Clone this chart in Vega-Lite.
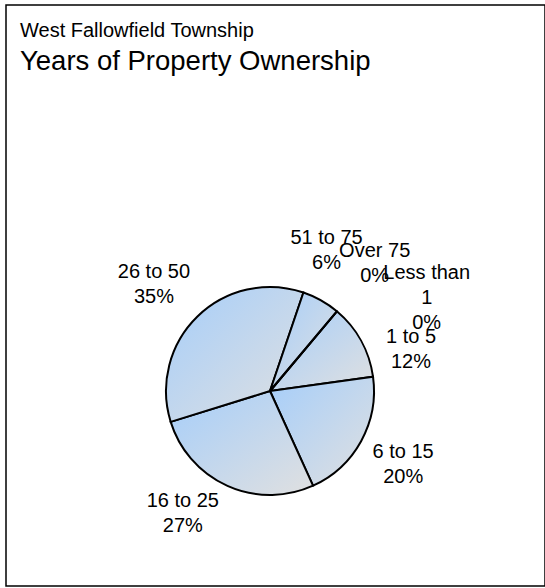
{
  "$schema": "https://vega.github.io/schema/vega-lite/v6.json",
  "width": 539,
  "height": 581,
  "padding": {"left": 6, "top": 5, "right": 0, "bottom": 2},
  "autosize": {"type": "pad"},
  "background": "white",
  "view": {"stroke": "black", "strokeWidth": 1.5, "fill": "white"},
  "config": {"font": "Liberation Sans"},
  "title": {
    "text": "West Fallowfield Township",
    "subtitle": "Years of Property Ownership",
    "anchor": "start",
    "dx": 14,
    "offset": -70,
    "font": "Liberation Sans",
    "fontSize": 20,
    "fontWeight": "normal",
    "color": "black",
    "subtitleFont": "Liberation Sans",
    "subtitleFontSize": 27.5,
    "subtitleColor": "black",
    "subtitlePadding": 7
  },
  "data": {
    "values": [
      {"cat": "Less than 1", "pct": 0},
      {"cat": "1 to 5", "pct": 11.7},
      {"cat": "6 to 15", "pct": 20.4},
      {"cat": "16 to 25", "pct": 27.0},
      {"cat": "26 to 50", "pct": 35.0},
      {"cat": "51 to 75", "pct": 5.9},
      {"cat": "Over 75", "pct": 0}
    ]
  },
  "transform": [
    {"window": [{"op": "row_number", "as": "idx"}]},
    {"calculate": "replace(datum.cat, 'than ', 'than\\n') + '\\n' + format(datum.pct, '.0f') + '%'", "as": "label"}
  ],
  "encoding": {
    "theta": {"field": "pct", "type": "quantitative", "stack": true, "scale": {"range": [0.698, 6.9812]}},
    "order": {"field": "idx", "type": "quantitative"}
  },
  "layer": [
    {
      "mark": {
        "type": "arc",
        "outerRadius": 104,
        "stroke": "black",
        "strokeWidth": 2,
        "xOffset": -5.5,
        "yOffset": 95.5,
        "color": {
          "gradient": "linear", "x1": 0, "y1": 0, "x2": 1, "y2": 1,
          "stops": [{"offset": 0, "color": "#a6cefa"}, {"offset": 1, "color": "#e0e0e0"}]
        }
      }
    },
    {
      "mark": {"type": "text", "radius": 152, "fontSize": 20, "lineBreak": "\n", "lineHeight": 25, "xOffset": -5.5, "yOffset": 95.5, "dx": -10, "dy": -10, "color": "black", "align": "center", "baseline": "middle"},
      "encoding": {"text": {"condition": {"test": "datum.cat === '26 to 50'", "field": "label"}, "value": ""}}
    },
    {
      "mark": {"type": "text", "radius": 152, "fontSize": 20, "lineBreak": "\n", "lineHeight": 25, "xOffset": -5.5, "yOffset": 95.5, "dx": 0, "dy": -12, "color": "black", "align": "center", "baseline": "middle"},
      "encoding": {"text": {"condition": {"test": "datum.cat === '6 to 15'", "field": "label"}, "value": ""}}
    },
    {
      "mark": {"type": "text", "radius": 152, "fontSize": 20, "lineBreak": "\n", "lineHeight": 25, "xOffset": -5.5, "yOffset": 95.5, "dx": -25, "dy": -29, "color": "black", "align": "center", "baseline": "middle"},
      "encoding": {"text": {"condition": {"test": "datum.cat === '16 to 25'", "field": "label"}, "value": ""}}
    },
    {
      "mark": {"type": "text", "radius": 152, "fontSize": 20, "lineBreak": "\n", "lineHeight": 25, "xOffset": -5.5, "yOffset": 95.5, "dx": 8, "dy": 20, "color": "black", "align": "center", "baseline": "middle"},
      "encoding": {"text": {"condition": {"test": "datum.cat === '1 to 5'", "field": "label"}, "value": ""}}
    },
    {
      "mark": {"type": "text", "radius": 152, "fontSize": 20, "lineBreak": "\n", "lineHeight": 25, "xOffset": -5.5, "yOffset": 95.5, "dx": -18, "dy": -21, "color": "black", "align": "center", "baseline": "middle"},
      "encoding": {"text": {"condition": {"test": "datum.cat === '51 to 75'", "field": "label"}, "value": ""}}
    },
    {
      "mark": {"type": "text", "radius": 152, "fontSize": 20, "lineBreak": "\n", "lineHeight": 25, "xOffset": -5.5, "yOffset": 95.5, "dx": 7, "dy": -24, "color": "black", "align": "center", "baseline": "middle"},
      "encoding": {"text": {"condition": {"test": "datum.cat === 'Over 75'", "field": "label"}, "value": ""}}
    },
    {
      "mark": {"type": "text", "radius": 152, "fontSize": 20, "lineBreak": "\n", "lineHeight": 25, "xOffset": -5.5, "yOffset": 95.5, "dx": 59, "dy": -2, "color": "black", "align": "center", "baseline": "middle"},
      "encoding": {"text": {"condition": {"test": "datum.cat === 'Less than 1'", "field": "label"}, "value": ""}}
    }
  ]
}
